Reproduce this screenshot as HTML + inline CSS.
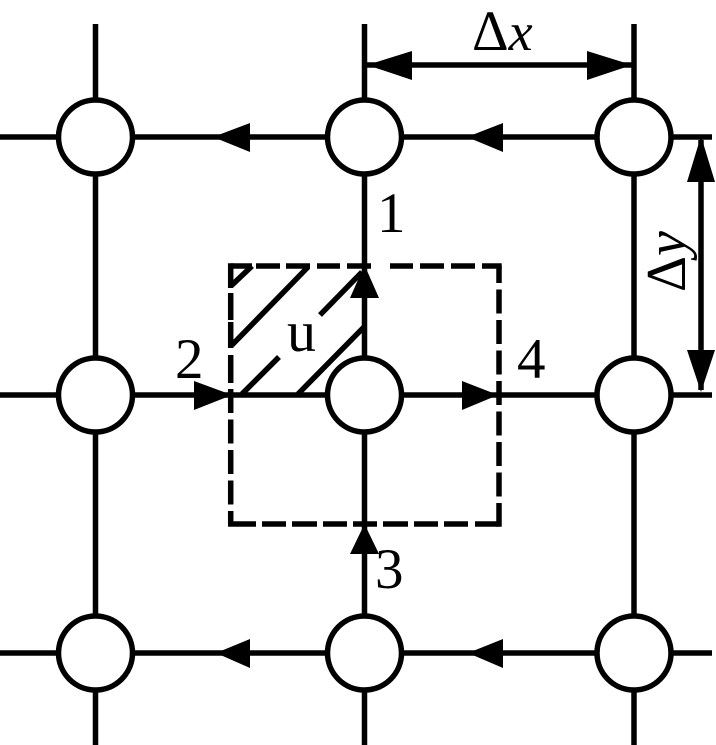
<!DOCTYPE html>
<html><head><meta charset="utf-8"><style>
html,body{margin:0;padding:0;background:#fff;width:716px;height:745px;overflow:hidden}
svg{display:block}
text{font-family:"Liberation Serif",serif;fill:#000}
</style></head><body>
<svg width="716" height="745" viewBox="0 0 716 745" xmlns="http://www.w3.org/2000/svg">
<g stroke="#000" stroke-width="5.5" fill="none">
<path d="M95.5 24V745M364.5 24V745M634 24V745"/>
<path d="M0 137H712M0 395H712M0 653H712"/>
<path d="M367 65H632M701 140V390"/>
<path d="M231 266H252M256 266H280M286 266H310M317 266H340M347 266H371M390 266H413M420 266H444M451 266H475M482 266H501.7"/>
<path d="M499 266V283M499 289.5V313.5M499 320V344M499 350.5V374.5M499 381V405M499 411.5V435.5M499 442V466M499 472.5V496.5M499 503V526.7"/>
<path d="M228 524H256M262 524H286M292 524H317M323 524H347M353 524H377M383 524H408M414 524H438M444 524H468M475 524H499"/>
<path d="M230.7 263.3V288M230.7 293V320M230.7 322V348M230.7 355V383M230.7 389V413M230.7 419.5V443.5M230.7 450V474M230.7 480.5V504.5M230.7 511V524"/>
<path d="M232 285L252 266M232 345L308 267M242 394L279 357M320 315L362 272M298 394L364 327"/>
</g>
<g fill="#fff" stroke="#000" stroke-width="5.5">
<circle cx="95.5" cy="137" r="37"/><circle cx="364.5" cy="137" r="37"/><circle cx="634" cy="137" r="37"/>
<circle cx="95.5" cy="395" r="37"/><circle cx="364.5" cy="395" r="37"/><circle cx="634" cy="395" r="37"/>
<circle cx="95.5" cy="653" r="37"/><circle cx="364.5" cy="653" r="37"/><circle cx="634" cy="653" r="37"/>
</g>
<g fill="#000">
<path d="M367 65L412 51V80ZM632 65L587 51V80Z"/>
<path d="M701 136L687 182H715ZM701 392L687 350H715Z"/>
<path d="M467 137L503 123V152ZM213 137L250 123V152Z"/>
<path d="M216 653L250 639V668ZM468 653L503 639V668Z"/>
<path d="M232 395L194 381V410ZM498 395L462 381V410Z"/>
<path d="M364.5 265L350 298H379ZM364.5 524L350 554H379Z"/>
</g>
<text x="377" y="232" font-size="57">1</text>
<text x="175" y="378" font-size="57">2</text>
<text x="375" y="588" font-size="57">3</text>
<text x="517" y="378" font-size="57">4</text>
<text x="287" y="351" font-size="58">u</text>
<text x="472" y="50" font-size="57">Δ<tspan font-style="italic" font-size="54">x</tspan></text>
<text transform="translate(685,292) rotate(-90)" font-size="56">Δ<tspan font-style="italic">y</tspan></text>
</svg>
</body></html>
